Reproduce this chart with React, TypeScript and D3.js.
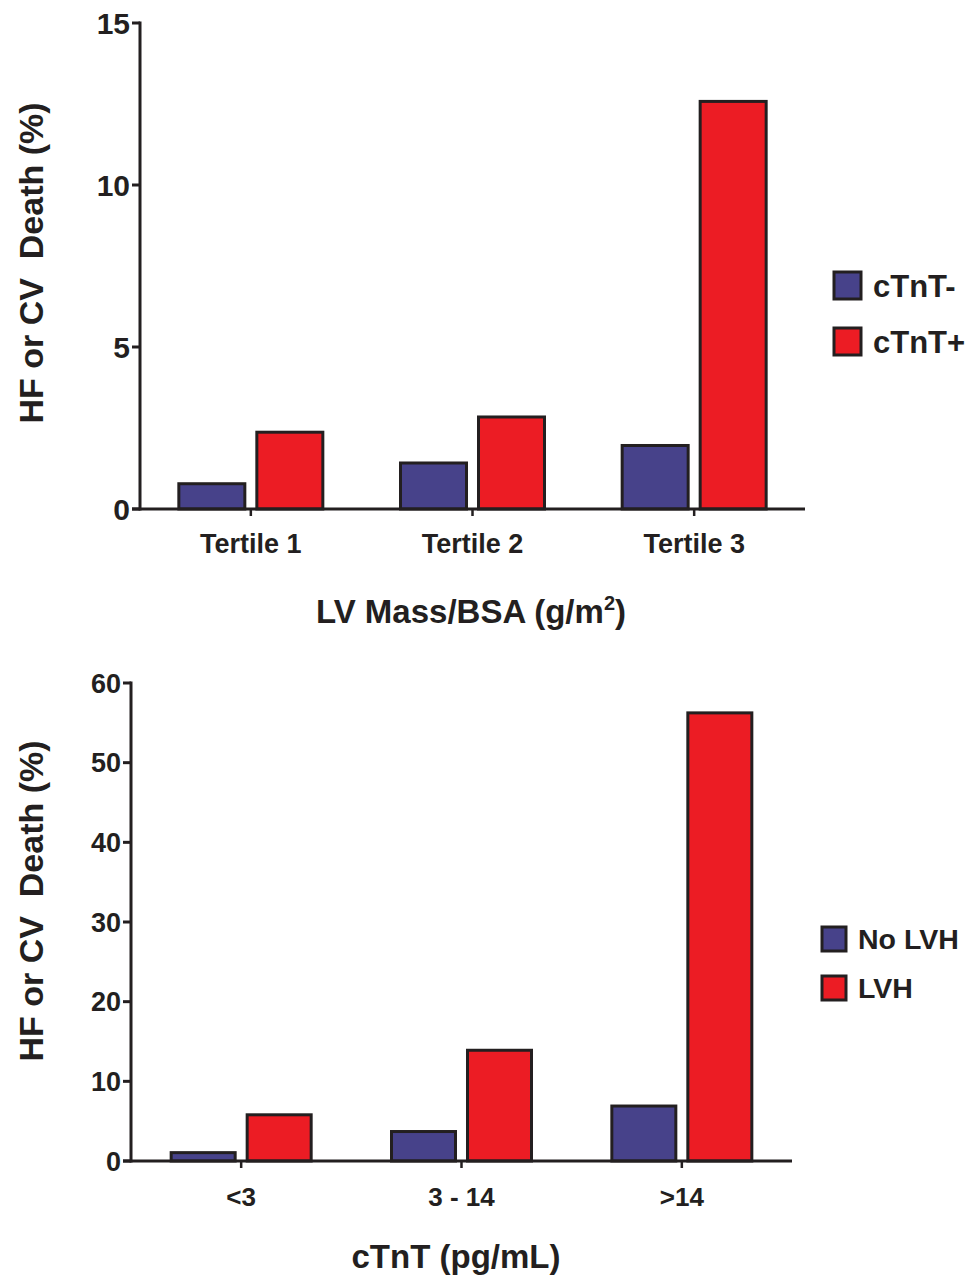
import React from "react";
import * as d3 from "d3";

const topCategories = ["Tertile 1", "Tertile 2", "Tertile 3"];
const topSeries = ["cTnT-", "cTnT+"];
const topNeg = [0.78, 1.42, 1.96];
const topPos = [2.37, 2.84, 12.58];
const topTicks = [0, 5, 10, 15];

const botCategories = ["<3", "3 - 14", ">14"];
const botSeries = ["No LVH", "LVH"];
const botNoLVH = [1.05, 3.7, 6.9];
const botLVH = [5.8, 13.9, 56.25];
const botTicks = [0, 10, 20, 30, 40, 50, 60];

const COLORS = ["#47428a", "#ec1c24"];
const INK = "#231f20";
const FONT = "'Liberation Sans', Arial, Helvetica, sans-serif";

type PanelProps = {
  categories: string[];
  series: string[];
  values: number[][];
  ticks: number[];
  yMax: number;
  x0: number;
  x1: number;
  yTop: number;
  yBottom: number;
  barW: number;
  gap: number;
  tickFont: number;
  catFont: number;
  catBaseline: number;
  xTitle: React.ReactNode;
  xTitleX: number;
  xTitleY: number;
  xTitleFont: number;
  yTitleCy: number;
  legendX: number;
  legendY: number[];
  legendSize: number;
  legendFont: number;
};

function Panel(p: PanelProps) {
  const y = d3.scaleLinear().domain([0, p.yMax]).range([p.yBottom, p.yTop]);
  const x = d3.scaleBand<string>().domain(p.categories).range([p.x0, p.x1]).padding(0);
  const sub = d3
    .scaleBand<string>()
    .domain(p.series)
    .range([-(p.barW + p.gap / 2), p.barW + p.gap / 2])
    .paddingInner(p.gap / (p.barW + p.gap))
    .paddingOuter(0);
  return (
    <g>
      {p.categories.map((c, ci) =>
        p.series.map((s, si) => {
          const cx = (x(c) as number) + x.bandwidth() / 2;
          const v = p.values[si][ci];
          return (
            <rect
              key={c + s}
              x={cx + (sub(s) as number)}
              y={y(v)}
              width={sub.bandwidth()}
              height={y(0) - y(v)}
              fill={COLORS[si]}
              stroke={INK}
              strokeWidth={3}
            />
          );
        })
      )}
      <line x1={p.x0} x2={p.x0} y1={p.yTop - 1.5} y2={p.yBottom + 1.5} stroke={INK} strokeWidth={3} />
      {p.ticks.map((t) => (
        <g key={t}>
          <line x1={p.x0 - 8} x2={p.x0} y1={y(t)} y2={y(t)} stroke={INK} strokeWidth={3} />
          <text
            x={p.x0 - 10}
            y={y(t)}
            dy="0.36em"
            textAnchor="end"
            fontFamily={FONT}
            fontWeight="bold"
            fontSize={p.tickFont}
            fill={INK}
          >
            {t}
          </text>
        </g>
      ))}
      <line x1={p.x0 - 8} x2={p.x1} y1={p.yBottom} y2={p.yBottom} stroke={INK} strokeWidth={3} />
      {p.categories.map((c) => {
        const cx = (x(c) as number) + x.bandwidth() / 2;
        return (
          <g key={c}>
            <line x1={cx} x2={cx} y1={p.yBottom} y2={p.yBottom + 7} stroke={INK} strokeWidth={2.5} />
            <text
              x={cx}
              y={p.catBaseline}
              textAnchor="middle"
              fontFamily={FONT}
              fontWeight="bold"
              fontSize={p.catFont}
              fill={INK}
            >
              {c}
            </text>
          </g>
        );
      })}
      <text
        x={p.xTitleX}
        y={p.xTitleY}
        textAnchor="middle"
        fontFamily={FONT}
        fontWeight="bold"
        fontSize={p.xTitleFont}
        fill={INK}
      >
        {p.xTitle}
      </text>
      <text
        transform={`translate(43,${p.yTitleCy}) rotate(-90)`}
        textAnchor="middle"
        fontFamily={FONT}
        fontWeight="bold"
        fontSize={34}
        fill={INK}
        style={{ whiteSpace: "pre" }}
      >
        {"HF or CV  Death (%)"}
      </text>
      {p.series.map((s, si) => (
        <g key={s}>
          <rect
            x={p.legendX}
            y={p.legendY[si]}
            width={p.legendSize}
            height={p.legendSize}
            fill={COLORS[si]}
            stroke={INK}
            strokeWidth={3}
          />
          <text
            x={p.legendX + p.legendSize + 12}
            y={p.legendY[si] + p.legendSize / 2}
            dy="0.36em"
            fontFamily={FONT}
            fontWeight="bold"
            fontSize={p.legendFont}
            fill={INK}
          >
            {s}
          </text>
        </g>
      ))}
    </g>
  );
}

export default function App() {
  return (
    <svg
      width={968}
      height={1280}
      viewBox="0 0 968 1280"
      style={{ position: "absolute", left: 0, top: 0, background: "#fff" }}
    >
      <rect width={968} height={1280} fill="#fff" />
      <Panel
        categories={topCategories}
        series={topSeries}
        values={[topNeg, topPos]}
        ticks={topTicks}
        yMax={15}
        x0={140}
        x1={805}
        yTop={23}
        yBottom={509}
        barW={66}
        gap={12}
        tickFont={30}
        catFont={27}
        catBaseline={553}
        xTitle={
          <>
            LV Mass/BSA (g/m
            <tspan dy={-13} fontSize={20}>
              2
            </tspan>
            <tspan dy={13}>)</tspan>
          </>
        }
        xTitleX={471}
        xTitleY={623}
        xTitleFont={33}
        yTitleCy={263}
        legendX={834}
        legendY={[272, 328]}
        legendSize={27}
        legendFont={31}
      />
      <Panel
        categories={botCategories}
        series={botSeries}
        values={[botNoLVH, botLVH]}
        ticks={botTicks}
        yMax={60}
        x0={131}
        x1={792}
        yTop={683}
        yBottom={1161}
        barW={64}
        gap={12}
        tickFont={27}
        catFont={26}
        catBaseline={1206}
        xTitle={"cTnT (pg/mL)"}
        xTitleX={456}
        xTitleY={1268}
        xTitleFont={33}
        yTitleCy={901}
        legendX={822}
        legendY={[927, 976]}
        legendSize={24}
        legendFont={28.5}
      />
    </svg>
  );
}
